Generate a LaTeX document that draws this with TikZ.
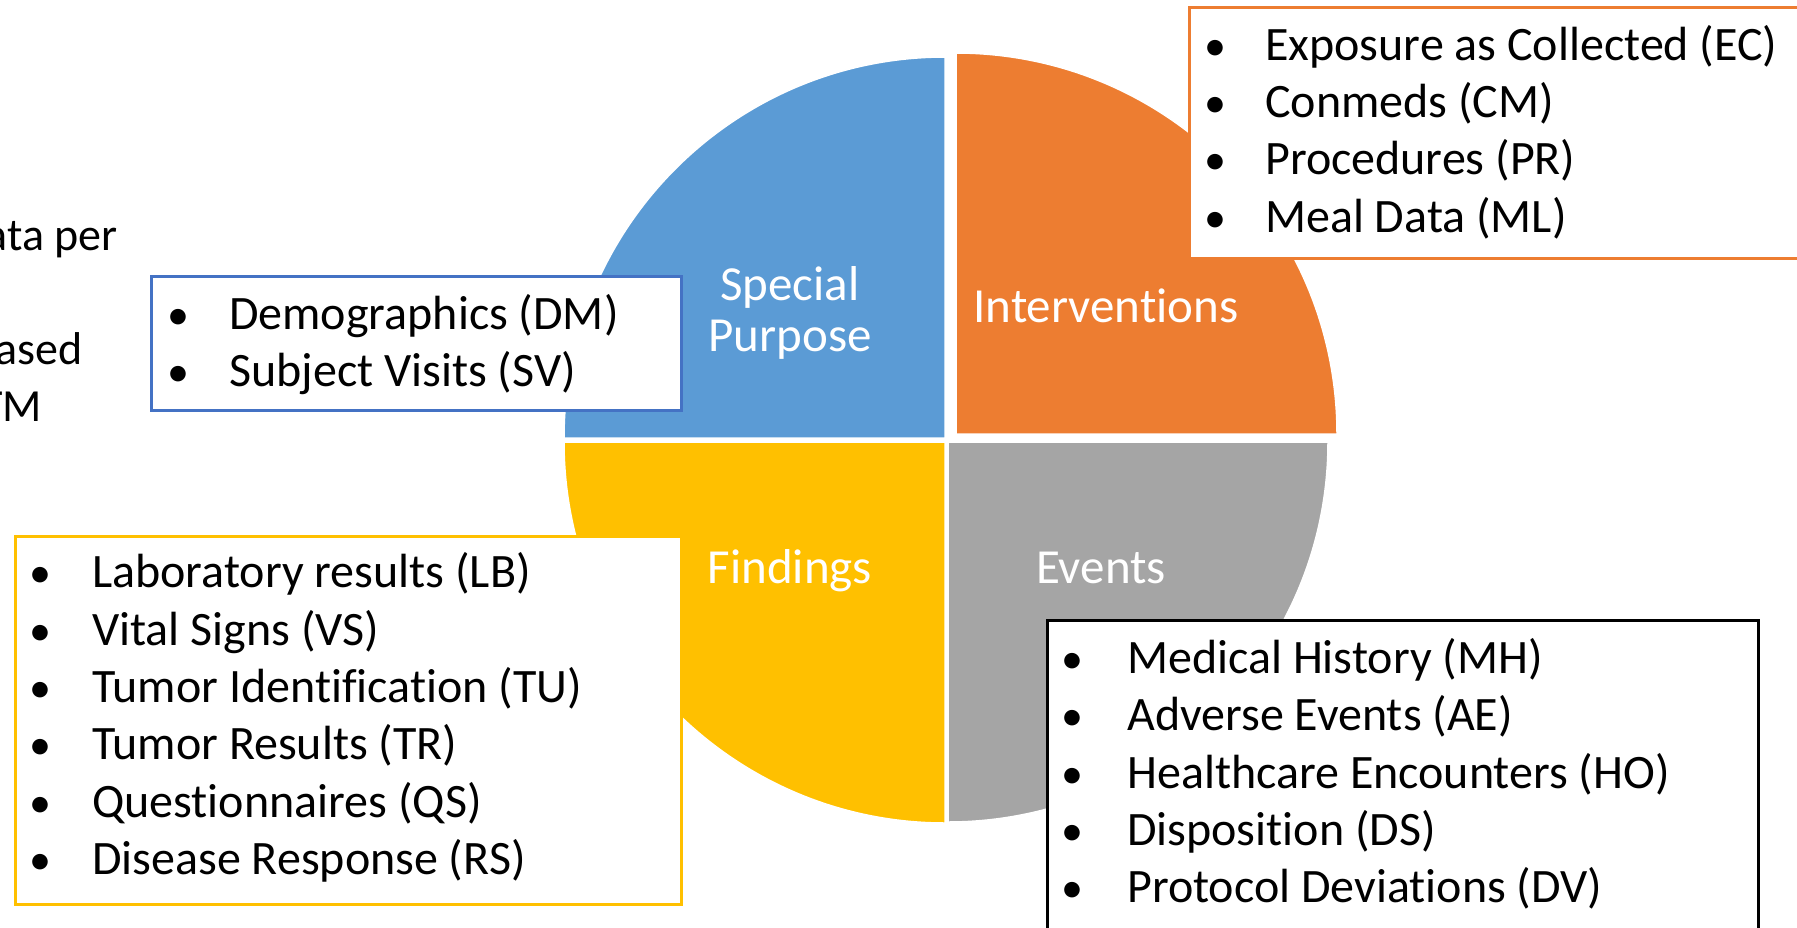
\documentclass[tikz,border=0pt]{standalone}
\usepackage{fontspec}
\setmainfont{Carlito}[Ligatures=NoCommon]
\definecolor{spblue}{HTML}{5B9BD5}
\definecolor{inorange}{HTML}{ED7D31}
\definecolor{fiyellow}{HTML}{FFC000}
\definecolor{evgray}{HTML}{A5A5A5}
\definecolor{boxblue}{HTML}{4472C4}
\tikzset{
  quad/.style={draw=white, line width=1.5pt},
  listbox/.style={draw, fill=white, line width=2.5pt, inner sep=0pt, anchor=north west},
  item/.style={anchor=base west, inner sep=0pt, font=\fontsize{48}{57}\selectfont},
  bul/.style={anchor=base, inner sep=0pt, font=\fontsize{44}{57}\selectfont},
  qlabel/.style={anchor=base, inner sep=0pt, text=white, font=\fontsize{49}{51}\selectfont},
  side/.style={anchor=base east, inner sep=0pt, font=\fontsize{46}{57}\selectfont}
}
\begin{document}
\begin{tikzpicture}[x=1pt,y=-1pt]
\useasboundingbox (0,0) rectangle (1797,927);
\clip (0,0) rectangle (1797,927);
% pie quadrants
\fill[spblue, quad] (945,438) -- (564,438) arc[start angle=180, end angle=270, radius=381] -- cycle;
\fill[inorange, quad] (956,434) -- (956,53) arc[start angle=270, end angle=360, radius=381] -- cycle;
\fill[fiyellow, quad] (945,442) -- (564,442) arc[start angle=180, end angle=90, radius=381] -- cycle;
\fill[evgray, quad] (948,442) -- (1328,442) arc[start angle=0, end angle=90, radius=380] -- cycle;
% quadrant labels
\node[qlabel] (sp1) at (790,300) {Special};
\node[qlabel] (sp2) at (790,351) {Purpose};
\node[qlabel] (iv) at (1106,322) {Interventions};
\node[qlabel] (fi) at (790,583) {Findings};
\node[qlabel] (ev) at (1101,583) {Events};
% side text (cut off at the left edge)
\node[side] (s1) at (118,250) {ata per};
\node[side] (s2) at (83,364) {ased};
\node[side] (s3) at (42,421) {TM};
% list boxes
\node[listbox, draw=boxblue, minimum width=530pt, minimum height=134pt] (spbox) at (150,275) {};
\node[listbox, draw=inorange, minimum width=660pt, minimum height=251pt] (ivbox) at (1188,6) {};
\node[listbox, draw=fiyellow, minimum width=666pt, minimum height=368pt] (fibox) at (14,535) {};
\node[listbox, draw=black, minimum width=711pt, minimum height=341pt] (evbox) at (1046,619) {};
% special purpose list
\node[bul] (b1) at (178,329) {•}; \node[item] (t1) at (229,329) {Demographics (DM)};
\node[bul] (b2) at (178,386) {•}; \node[item] (t2) at (229,386) {Subject Visits (SV)};
% interventions list
\node[bul] (b3) at (1215,60) {•}; \node[item] (t3) at (1265,60) {Exposure as Collected (EC)};
\node[bul] (b4) at (1215,117) {•}; \node[item] (t4) at (1265,117) {Conmeds (CM)};
\node[bul] (b5) at (1215,174) {•}; \node[item] (t5) at (1265,174) {Procedures (PR)};
\node[bul] (b6) at (1215,232) {•}; \node[item] (t6) at (1265,232) {Meal Data (ML)};
% findings list
\node[bul] (b7) at (40,587) {•}; \node[item] (t7) at (92,587) {Laboratory results (LB)};
\node[bul] (b8) at (40,645) {•}; \node[item] (t8) at (92,645) {Vital Signs (VS)};
\node[bul] (b9) at (40,702) {•}; \node[item] (t9) at (92,702) {Tumor Identification (TU)};
\node[bul] (b10) at (40,759) {•}; \node[item] (t10) at (92,759) {Tumor Results (TR)};
\node[bul] (b11) at (40,817) {•}; \node[item] (t11) at (92,817) {Questionnaires (QS)};
\node[bul] (b12) at (40,874) {•}; \node[item] (t12) at (92,874) {Disease Response (RS)};
% events list
\node[bul] (b13) at (1072,673) {•}; \node[item] (t13) at (1127,673) {Medical History (MH)};
\node[bul] (b14) at (1072,730) {•}; \node[item] (t14) at (1127,730) {Adverse Events (AE)};
\node[bul] (b15) at (1072,788) {•}; \node[item] (t15) at (1127,788) {Healthcare Encounters (HO)};
\node[bul] (b16) at (1072,845) {•}; \node[item] (t16) at (1127,845) {Disposition (DS)};
\node[bul] (b17) at (1072,902) {•}; \node[item] (t17) at (1127,902) {Protocol Deviations (DV)};
\end{tikzpicture}
\end{document}
